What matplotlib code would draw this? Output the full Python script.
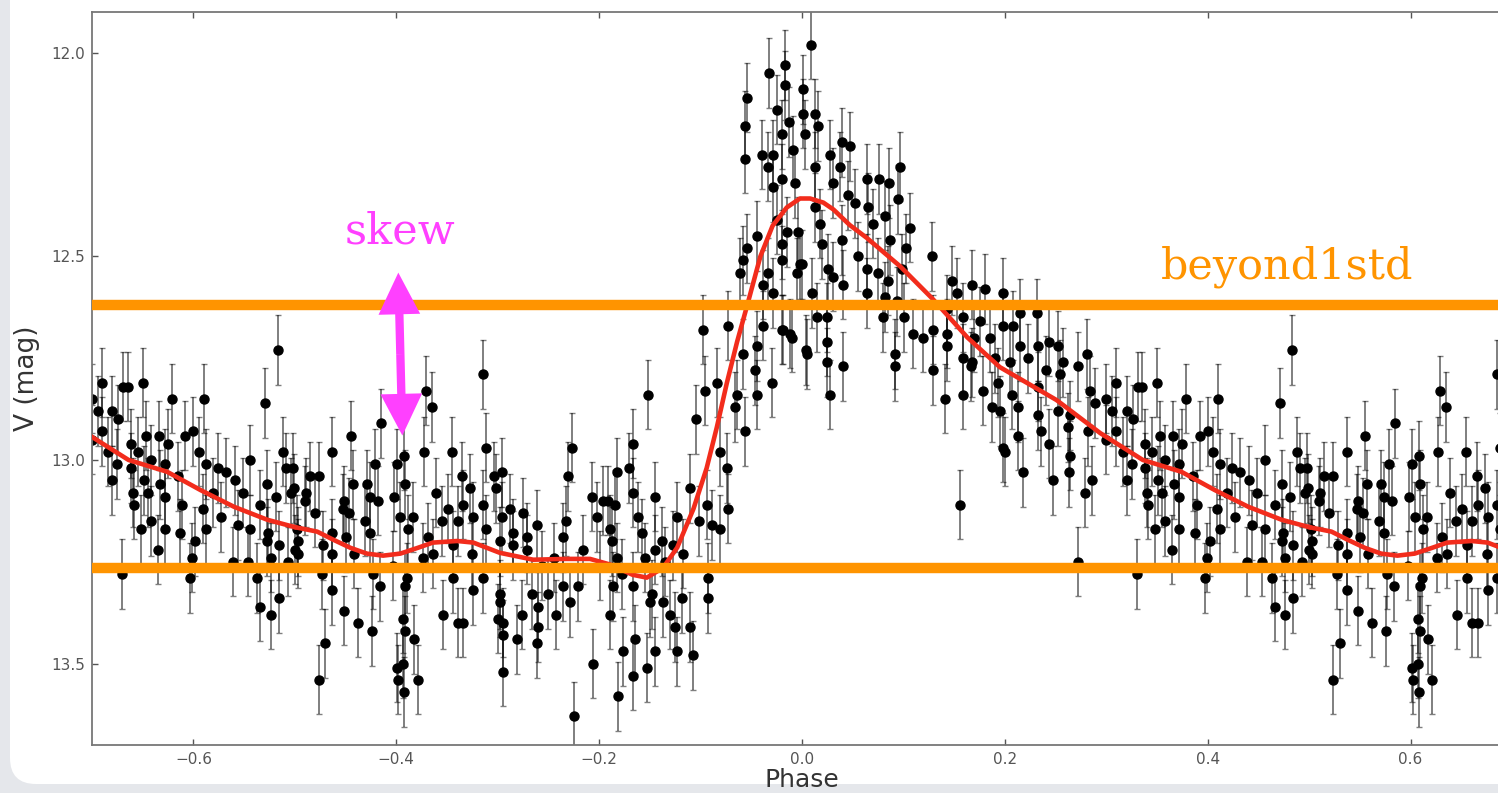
import numpy as np
import matplotlib.pyplot as plt
from matplotlib.patches import FancyBboxPatch, FancyArrowPatch
from matplotlib.ticker import FuncFormatter
from matplotlib.transforms import IdentityTransform

# folded light curve, one period (phase, V mag)
phase = np.array([
    # -0.50 .. -0.33
    -0.371, -0.365, -0.415, -0.445, -0.463, -0.373, -0.345, -0.421, -0.399, -0.392,
    -0.502, -0.485, -0.476, -0.443, -0.429, -0.391, -0.501, -0.489, -0.361, -0.402,
    -0.426, -0.490, -0.452, -0.418, -0.384, -0.396, -0.349, -0.453, -0.480, -0.447,
    -0.431, -0.355, -0.339, -0.388, -0.498, -0.463, -0.426, -0.450, -0.497, -0.369,
    -0.472, -0.442, -0.463, -0.497, -0.374, -0.364, -0.344, -0.403, -0.473, -0.423,
    -0.389, -0.416, -0.463, -0.391, -0.344, -0.452, -0.354, -0.393, -0.438, -0.339,
    -0.424, -0.391, -0.470, -0.383, -0.399, -0.393, -0.476, -0.398, -0.379, -0.392,
    # -0.33 .. -0.17
    -0.315, -0.312, -0.227, -0.231, -0.171, -0.182, -0.335, -0.304, -0.296, -0.327,
    -0.302, -0.207, -0.196, -0.191, -0.184, -0.315, -0.334, -0.288, -0.275, -0.324,
    -0.296, -0.202, -0.233, -0.261, -0.312, -0.285, -0.271, -0.236, -0.189, -0.187,
    -0.216, -0.298, -0.325, -0.285, -0.271, -0.245, -0.182, -0.256, -0.199, -0.177,
    -0.315, -0.324, -0.236, -0.221, -0.186, -0.298, -0.266, -0.250, -0.229, -0.298,
    -0.260, -0.276, -0.189, -0.334, -0.300, -0.295, -0.295, -0.260, -0.243, -0.281,
    -0.261, -0.176, -0.206, -0.295, -0.181, -0.225,
    # -0.17 .. 0.00 (rise)
    -0.033, -0.017, -0.054, -0.017, -0.025, -0.056, -0.013, -0.020, -0.056, -0.039,
    -0.029, -0.009, -0.034, -0.020, -0.029, -0.007, -0.044, -0.025, -0.054, -0.020,
    -0.058, -0.061, -0.020, -0.034, -0.038, -0.029, -0.005, -0.073, -0.098, -0.038,
    -0.020, -0.012, -0.044, -0.058, -0.084, -0.046, -0.096, -0.030, -0.064, -0.066,
    -0.105, -0.152, -0.044, -0.056, -0.167, -0.081, -0.074, -0.110, -0.167, -0.073,
    -0.094, -0.145, -0.089, -0.162, -0.123, -0.102, -0.081, -0.158, -0.138, -0.127,
    -0.145, -0.155, -0.135, -0.117, -0.093, -0.093, -0.167, -0.148, -0.137, -0.118,
    -0.150, -0.130, -0.125, -0.165, -0.110, -0.123, -0.145, -0.107, -0.153, -0.167,
    -0.004, -0.002, -0.019, -0.010, -0.015, 0.005,
    # 0.00 .. 0.17 (peak and decline)
    0.009, 0.001, 0.013, 0.001, 0.016, 0.039, 0.047, 0.003, 0.028, 0.013,
    0.037, 0.097, 0.031, 0.064, 0.076, 0.086, 0.045, 0.052, 0.013, 0.065,
    0.082, 0.095, 0.018, 0.070, 0.106, 0.039, 0.020, 0.087, 0.055, 0.103,
    0.128, 0.000, 0.026, 0.064, 0.075, 0.099, 0.031, 0.040, 0.085, 0.148,
    0.010, 0.064, 0.082, 0.153, 0.094, 0.143, 0.015, 0.025, 0.080, 0.101,
    0.159, 0.109, 0.129, 0.143, 0.025, 0.004, 0.119, 0.143, 0.159, 0.092,
    0.025, 0.092, 0.167, 0.040, 0.129, 0.028, 0.159, 0.141, 0.156,
    # 0.17 .. 0.33
    0.168, 0.180, 0.198, 0.215, 0.232, 0.175, 0.198, 0.208, 0.170, 0.185,
    0.244, 0.252, 0.233, 0.281, 0.215, 0.223, 0.257, 0.168, 0.190, 0.205,
    0.272, 0.310, 0.331, 0.241, 0.254, 0.193, 0.178, 0.284, 0.300, 0.207,
    0.233, 0.187, 0.213, 0.195, 0.252, 0.264, 0.233, 0.289, 0.306, 0.320,
    0.326, 0.262, 0.282, 0.236, 0.213, 0.244, 0.310, 0.300, 0.198, 0.264,
    0.316, 0.325, 0.218, 0.263, 0.247, 0.286, 0.320, 0.279, 0.272, 0.330,
    0.200,
    # 0.33 .. 0.50
    0.483, 0.471, 0.335, 0.350, 0.379, 0.410, 0.488, 0.456, 0.338, 0.353,
    0.366, 0.375, 0.392, 0.400, 0.405, 0.345, 0.358, 0.372, 0.412, 0.424,
    0.491, 0.338, 0.351, 0.367, 0.385, 0.432, 0.441, 0.473, 0.496, 0.340,
    0.355, 0.372, 0.419, 0.449, 0.481, 0.341, 0.389, 0.409, 0.466, 0.427,
    0.444, 0.358, 0.348, 0.372, 0.387, 0.412, 0.456, 0.474, 0.402, 0.365,
    0.473, 0.484, 0.500, 0.399, 0.439, 0.454, 0.476, 0.493, 0.397, 0.463,
    0.484, 0.466, 0.476,
])

mag = np.array([
    12.83, 12.87, 12.91, 12.94, 12.98, 12.98, 12.98, 13.01, 13.01, 12.99,
    13.02, 13.04, 13.04, 13.06, 13.06, 13.06, 13.07, 13.08, 13.08, 13.09,
    13.09, 13.10, 13.10, 13.10, 13.14, 13.14, 13.12, 13.12, 13.13, 13.13,
    13.15, 13.15, 13.15, 13.17, 13.17, 13.18, 13.18, 13.19, 13.20, 13.19,
    13.21, 13.23, 13.23, 13.23, 13.24, 13.23, 13.21, 13.26, 13.28, 13.28,
    13.29, 13.31, 13.32, 13.31, 13.29, 13.37, 13.38, 13.39, 13.40, 13.40,
    13.42, 13.42, 13.45, 13.44, 13.51, 13.50, 13.54, 13.54, 13.54, 13.57,

    12.79, 12.97, 12.97, 13.04, 13.02, 13.03, 13.04, 13.04, 13.03, 13.07,
    13.07, 13.09, 13.10, 13.10, 13.11, 13.11, 13.11, 13.12, 13.13, 13.14,
    13.14, 13.14, 13.15, 13.16, 13.17, 13.18, 13.19, 13.19, 13.17, 13.20,
    13.22, 13.20, 13.23, 13.21, 13.22, 13.24, 13.24, 13.26, 13.26, 13.28,
    13.29, 13.32, 13.31, 13.31, 13.31, 13.33, 13.33, 13.33, 13.35, 13.35,
    13.36, 13.38, 13.38, 13.40, 13.39, 13.40, 13.43, 13.41, 13.38, 13.44,
    13.45, 13.47, 13.50, 13.52, 13.58, 13.63,

    12.05, 12.03, 12.11, 12.08, 12.14, 12.18, 12.17, 12.20, 12.26, 12.25,
    12.25, 12.24, 12.28, 12.31, 12.33, 12.32, 12.45, 12.41, 12.48, 12.47,
    12.51, 12.54, 12.51, 12.54, 12.57, 12.59, 12.54, 12.67, 12.68, 12.67,
    12.68, 12.69, 12.72, 12.74, 12.81, 12.78, 12.83, 12.81, 12.84, 12.87,
    12.90, 12.84, 12.84, 12.93, 12.96, 12.98, 13.02, 13.07, 13.08, 13.12,
    13.11, 13.09, 13.16, 13.14, 13.14, 13.15, 13.17, 13.18, 13.20, 13.21,
    13.22, 13.24, 13.25, 13.23, 13.29, 13.34, 13.31, 13.33, 13.35, 13.34,
    13.35, 13.38, 13.41, 13.44, 13.41, 13.47, 13.47, 13.48, 13.51, 13.53,
    12.44, 12.52, 12.68, 12.70, 12.44, 12.74,

    11.98, 12.09, 12.15, 12.15, 12.18, 12.22, 12.23, 12.20, 12.25, 12.28,
    12.28, 12.28, 12.32, 12.31, 12.31, 12.32, 12.35, 12.37, 12.38, 12.38,
    12.40, 12.36, 12.42, 12.42, 12.43, 12.46, 12.47, 12.46, 12.50, 12.48,
    12.50, 12.52, 12.53, 12.53, 12.54, 12.53, 12.55, 12.57, 12.56, 12.56,
    12.59, 12.59, 12.60, 12.59, 12.61, 12.63, 12.65, 12.65, 12.65, 12.65,
    12.65, 12.69, 12.68, 12.69, 12.71, 12.73, 12.70, 12.72, 12.75, 12.74,
    12.76, 12.77, 12.77, 12.77, 12.78, 12.84, 12.84, 12.85, 13.11,

    12.57, 12.58, 12.59, 12.64, 12.64, 12.66, 12.67, 12.67, 12.70, 12.70,
    12.71, 12.72, 12.72, 12.74, 12.72, 12.75, 12.76, 12.76, 12.75, 12.76,
    12.77, 12.81, 12.82, 12.78, 12.79, 12.81, 12.83, 12.83, 12.85, 12.84,
    12.82, 12.87, 12.87, 12.88, 12.88, 12.89, 12.89, 12.86, 12.88, 12.88,
    12.90, 12.92, 12.93, 12.93, 12.94, 12.96, 12.93, 12.95, 12.97, 12.99,
    12.98, 13.01, 13.03, 13.03, 13.05, 13.05, 13.05, 13.08, 13.25, 13.28,
    12.98,

    12.73, 12.86, 12.82, 12.81, 12.85, 12.85, 12.98, 13.00, 12.96, 12.94,
    12.94, 12.96, 12.94, 12.93, 12.98, 12.98, 13.00, 13.01, 13.01, 13.02,
    13.02, 13.02, 13.05, 13.06, 13.04, 13.03, 13.05, 13.06, 13.08, 13.08,
    13.08, 13.09, 13.08, 13.08, 13.09, 13.11, 13.11, 13.12, 13.11, 13.14,
    13.16, 13.15, 13.17, 13.17, 13.18, 13.17, 13.17, 13.18, 13.20, 13.22,
    13.20, 13.21, 13.22, 13.24, 13.25, 13.25, 13.24, 13.25, 13.29, 13.29,
    13.34, 13.36, 13.38,
])
mag_err = 0.085

# smoothed model through one period
model_phase = np.array([
    -0.500, -0.478, -0.462, -0.445, -0.429, -0.413, -0.396, -0.379, -0.364, -0.340,
    -0.324, -0.298, -0.265, -0.232, -0.209, -0.189, -0.167, -0.153, -0.137, -0.123,
    -0.107, -0.094, -0.084, -0.074, -0.064, -0.054, -0.041, -0.029, -0.015, -0.002,
    0.008, 0.021, 0.031, 0.047, 0.064, 0.097, 0.129, 0.163, 0.195, 0.251,
    0.294, 0.336, 0.374, 0.407, 0.440, 0.473, 0.500])
model_mag = np.array([
    13.165, 13.176, 13.196, 13.216, 13.230, 13.235, 13.230, 13.216, 13.203, 13.199,
    13.203, 13.228, 13.245, 13.243, 13.243, 13.257, 13.282, 13.289, 13.265, 13.215,
    13.120, 13.020, 12.920, 12.810, 12.710, 12.620, 12.500, 12.425, 12.380, 12.358,
    12.358, 12.368, 12.385, 12.423, 12.455, 12.525, 12.605, 12.699, 12.772, 12.853,
    12.934, 13.000, 13.029, 13.074, 13.115, 13.147, 13.165])

# annotation levels
std_upper = 12.62
std_lower = 13.265
skew_x = (-0.398, -0.394)
skew_y = (12.54, 12.94)

x_ticks = [-0.6, -0.4, -0.2, 0.0, 0.2, 0.4, 0.6]
y_ticks = [12.0, 12.5, 13.0, 13.5]

ORANGE = '#ff9400'
MAGENTA = '#ff40ff'

fig = plt.figure(figsize=(14.98, 7.93), dpi=100)
fig.patch.set_facecolor('#e5e7eb')
panel = FancyBboxPatch((10, 9), 1600, 900, boxstyle='round,pad=0,rounding_size=26',
                       facecolor='white', edgecolor='none',
                       transform=IdentityTransform(), zorder=-5)
fig.add_artist(panel)

ax = fig.add_axes([92 / 1498, 48 / 793, 1420 / 1498, 733 / 793])
ax.set_facecolor('white')

for shift in (-1, 0, 1):
    ax.errorbar(phase + shift, mag, yerr=mag_err, fmt='o', ms=6.5, mfc='k', mec='k',
                ecolor=(0, 0, 0, 0.5), elinewidth=1.4, capsize=2.5, capthick=1.0,
                zorder=2)
    ax.plot(model_phase + shift, model_mag, color='#f22c1c', lw=3.3, zorder=3)

ax.axhline(std_upper, color=ORANGE, lw=7.5, zorder=4)
ax.axhline(std_lower, color=ORANGE, lw=7.5, zorder=4)

# double-headed skew arrow, drawn as two arrows from the middle
mid = (np.mean(skew_x), np.mean(skew_y))
for end in ((skew_x[0], skew_y[0]), (skew_x[1], skew_y[1])):
    arr = FancyArrowPatch(mid, end, arrowstyle='simple,head_length=1.0,head_width=1.0,tail_width=0.2',
                          mutation_scale=30, color=MAGENTA, lw=0, shrinkA=0, shrinkB=0, zorder=5)
    ax.add_patch(arr)

ax.text(-0.396, 12.468, 'skew', color=MAGENTA, fontsize=31, family='DejaVu Serif',
        ha='center', va='baseline', zorder=6)
ax.text(0.478, 12.554, 'beyond1std', color=ORANGE, fontsize=31, family='DejaVu Serif',
        ha='center', va='baseline', zorder=6)

ax.set_xlim(-0.7, 0.7)
ax.set_ylim(13.7, 11.9)
ax.set_xticks(x_ticks)
ax.set_yticks(y_ticks)
fmt = FuncFormatter(lambda v, p: f'{v:.1f}'.replace('-', '\u2212'))
ax.xaxis.set_major_formatter(fmt)
ax.yaxis.set_major_formatter(fmt)
ax.tick_params(direction='in', top=True, right=True, length=4, width=1,
               colors='#555555', labelsize=11, pad=5)
for s in ax.spines.values():
    s.set_color('#777777')
    s.set_linewidth(1.3)

ax.set_xlabel('Phase', fontsize=18, color='#333333', labelpad=1)
ax.set_ylabel('V (mag)', fontsize=19, color='#333333', labelpad=8)

fig.savefig('out.png', dpi=100, facecolor=fig.get_facecolor())
